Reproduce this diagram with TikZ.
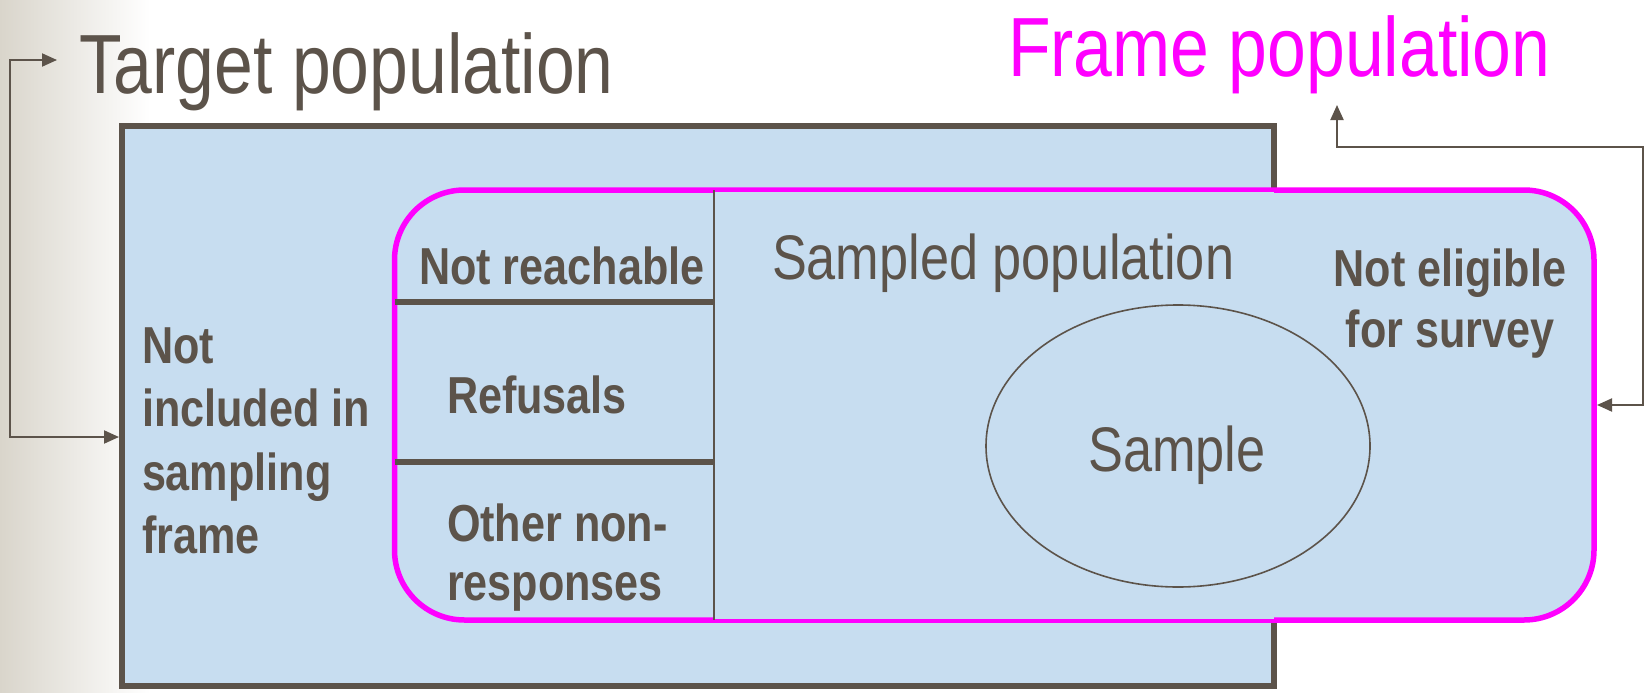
\documentclass[tikz,border=0pt]{standalone}
\usepackage{fontspec}
\newfontfamily\narrowfont[FakeStretch=0.83]{Liberation Sans}
\usetikzlibrary{arrows.meta}
\definecolor{ink}{RGB}{92,83,74}
\definecolor{mag}{RGB}{255,0,255}
\definecolor{boxblue}{RGB}{199,221,240}
\definecolor{bgl}{RGB}{217,213,203}
\tikzset{
  txt/.style={text=ink, inner sep=0pt, outer sep=0pt},
  big/.style={txt, font=\narrowfont\fontsize{84}{100}\selectfont},
  lab/.style={txt, font=\narrowfont\bfseries\fontsize{52}{62}\selectfont},
  mid/.style={txt, font=\narrowfont\fontsize{63}{75}\selectfont},
  conn/.style={draw=ink, line width=2pt, {Triangle[length=15pt,width=13pt]}-{Triangle[length=15pt,width=13pt]}},
}
\begin{document}
\begin{tikzpicture}[x=1pt,y=-1pt]
\useasboundingbox (0,0) rectangle (1651,693);
% background
\fill[left color=bgl, right color=white] (0,0) rectangle (150,693);
% target population box
\draw[ink, line width=6pt, fill=boxblue] (122,126) rectangle (1274,686);
\coordinate (outerW) at (119,437);
% frame population box
\draw[mag, line width=5.5pt, fill=boxblue, rounded corners=70pt] (394.5,190) rectangle (1594,620);
\coordinate (frameE) at (1597,405);
% sampled population region
\fill[boxblue] (714,192) rectangle (1274,618.5);
\draw[ink, line width=1.6pt] (714,190) -- (714,620);
\draw[ink, line width=5.5pt] (394.5,302) -- (714,302);
\draw[ink, line width=5.5pt] (394.5,462) -- (714,462);
% sample ellipse
\draw[ink, line width=1.6pt] (1178,446) ellipse [x radius=192, y radius=141];
% titles
\node[big, anchor=base west] (tgt) at (79,93) {Target population};
\node[big, anchor=base west, text=mag] (frm) at (1008,77) {Frame population};
\coordinate (tgtA) at (57,60);
\coordinate (frmA) at (1337,105);
% labels
\node[lab, anchor=base west] (nr) at (419,284) {Not reachable};
\node[lab, anchor=base west] (rf) at (447,413) {Refusals};
\node[lab, anchor=base west] (on1) at (447,541) {Other non-};
\node[lab, anchor=base west] (on2) at (447,600) {responses};
\node[lab, anchor=base west] (ni1) at (142,363) {Not};
\node[lab, anchor=base west] (ni2) at (142,426) {included in};
\node[lab, anchor=base west] (ni3) at (142,490) {sampling};
\node[lab, anchor=base west] (ni4) at (142,553) {frame};
\node[lab, anchor=base] (ne1) at (1450,286) {Not eligible};
\node[lab, anchor=base] (ne2) at (1450,347) {for survey};
\node[mid, anchor=base west] (sp) at (772,279) {Sampled population};
\node[mid, anchor=base] (smp) at (1177,471) {Sample};
% connectors
\draw[conn] (outerW) -- (9.5,437) |- (tgtA);
\draw[conn] (frameE) -- (1643,405) |- (1337,147) -- (frmA);
\end{tikzpicture}
\end{document}
